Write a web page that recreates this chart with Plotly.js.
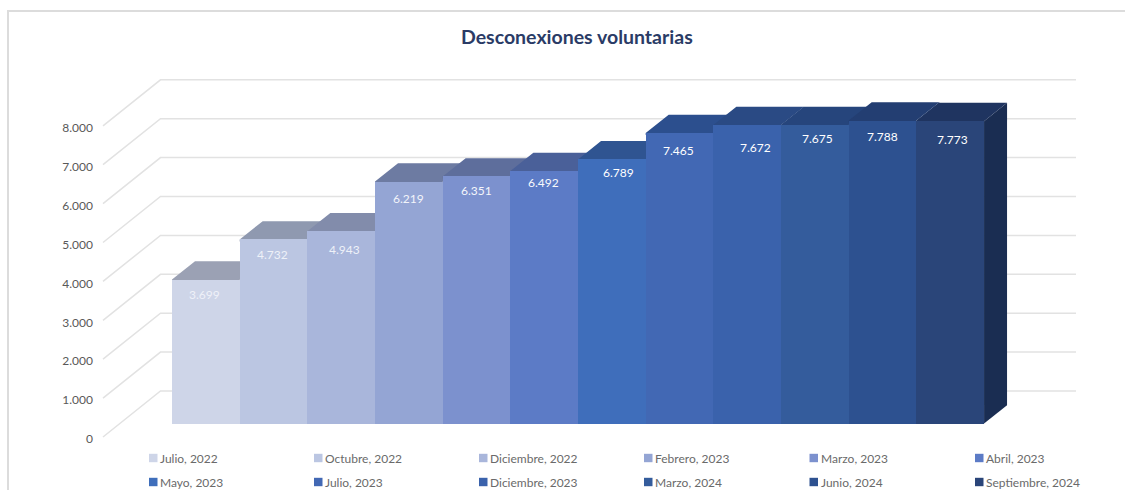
<!DOCTYPE html>
<html><head><meta charset="utf-8">
<script src="https://cdn.plot.ly/plotly-3.0.1.min.js"></script>
<style>html,body{margin:0;padding:0;background:#fff}#c{width:1125px;height:490px}</style>
</head><body><div id="c"></div>
<script>
const categories = ["Julio, 2022","Octubre, 2022","Diciembre, 2022","Febrero, 2023","Marzo, 2023","Abril, 2023","Mayo, 2023","Julio, 2023","Diciembre, 2023","Marzo, 2024","Junio, 2024","Septiembre, 2024"];
const values = [3699,4732,4943,6219,6351,6492,6789,7465,7672,7675,7788,7773];
const tickValues = [0,1000,2000,3000,4000,5000,6000,7000,8000];
const tickLabels = ["0","1.000","2.000","3.000","4.000","5.000","6.000","7.000","8.000"];
const valueLabels = ["3.699","4.732","4.943","6.219","6.351","6.492","6.789","7.465","7.672","7.675","7.788","7.773"];
const frontColors = ["#CED5E8","#BBC6E2","#A9B6DB","#94A5D4","#7C91CE","#5C7BC6","#3F6EBB","#4268B4","#3A62AC","#345C9C","#2D5190","#2A4579"];
const topColors = ["#9BA1B4","#8F99B0","#828CAB","#6D7BA2","#5E6E9C","#4A6099","#2F5491","#2C4F8E","#2A4A84","#26457C","#233E72","#1F3460"];
const sideColors = ["#8A90A2","#80899E","#747D99","#616E90","#54628B","#425588","#2A4A80","#27467D","#254175","#223D6E","#1F3765","#1A2D52"];
const labelColors = ["#EEF1F8","#EEF1F8","#EEF1F8","#F2F4FA","#F4F6FB","#F8F9FC","#FFFFFF","#FFFFFF","#FFFFFF","#FFFFFF","#FFFFFF","#FFFFFF"];
const labelShiftX = [-1,-1,3,0,0,-1,7,-1,8,3,0,2];
const labelShiftY = [15,15,18,17,14,12,13,17,22,14,16,18];

// page geometry
const W=1125,H=490, L=94,R=1090,T=50,B=445;
const barW=67.67, firstCenter=205.83, pxPerUnit=0.0389;
const floorPx=423.5, tickZeroPx=439;
const depthX=23/barW, depthY=18.3/pxPerUnit;
const xr=[(L-firstCenter)/barW,(R-firstCenter)/barW];
const yBars=[(floorPx-B)/pxPerUnit,(floorPx-T)/pxPerUnit];
const yTicks=[(tickZeroPx-B)/pxPerUnit,(tickZeroPx-T)/pxPerUnit];
const xOf=px=>(px-firstCenter)/barW;
const pX=px=>(px-L)/(R-L), pY=py=>(B-py)/(B-T);

const traces=[];
// gridlines: receding floor line + back wall line per tick
const gx=[],gy=[];
const gridFrontLift=2/pxPerUnit, gridBackRise=48/pxPerUnit;
tickValues.forEach(t=>{gx.push(xOf(103),xOf(160.5),xOf(1076),null);gy.push(t+gridFrontLift,t+gridBackRise,t+gridBackRise,null);});
traces.push({type:"scatter",mode:"lines",x:gx,y:gy,yaxis:"y",line:{color:"#E2E2E2",width:1.5},hoverinfo:"skip",showlegend:false});
// top and side faces, painted left to right
const tuck=2/pxPerUnit;
categories.forEach((c,i)=>{
  const v=values[i];
  traces.push({type:"scatter",mode:"lines",yaxis:"y2",fill:"toself",fillcolor:sideColors[i],line:{width:0,color:sideColors[i]},
    x:[i+.5,i+.5+depthX,i+.5+depthX,i+.5,i+.5],y:[0,depthY,v+depthY,v,0],hoverinfo:"skip",showlegend:false});
  traces.push({type:"scatter",mode:"lines",yaxis:"y2",fill:"toself",fillcolor:topColors[i],line:{width:0,color:topColors[i]},
    x:[i-.5,i-.5,i-.5+depthX,i+.5+depthX,i+.5,i+.5,i-.5],y:[v-tuck,v,v+depthY,v+depthY,v,v-tuck,v-tuck],hoverinfo:"skip",showlegend:false});
});
// front faces
categories.forEach((c,i)=>{
  traces.push({type:"bar",name:c,x:[i],y:[values[i]],width:[1],yaxis:"y3",marker:{color:frontColors[i],line:{width:0}},showlegend:false,hovertemplate:c+": %{y}<extra></extra>"});
});

const annotations=[], shapes=[];
valueLabels.forEach((t,i)=>annotations.push({xref:"x",yref:"y3",x:i,y:values[i],text:t,showarrow:false,xshift:labelShiftX[i],yshift:-labelShiftY[i],
  font:{family:"Lato",size:12,color:labelColors[i]}}));
// legend
const legendCols=[149,314,479,644,809.5,975], legendRows=[458,482];
categories.forEach((c,i)=>{
  const px=legendCols[i%6], py=legendRows[Math.floor(i/6)];
  shapes.push({type:"rect",xref:"paper",yref:"paper",x0:pX(px),x1:pX(px+8.5),y0:pY(py+4.2),y1:pY(py-4.2),fillcolor:frontColors[i],line:{width:0}});
  annotations.push({xref:"paper",yref:"paper",x:pX(px+9),y:pY(py),xanchor:"left",yanchor:"middle",text:c,showarrow:false,font:{family:"Lato",size:12,color:"#6A6A6A"}});
});
// outer frame
shapes.push({type:"line",xref:"paper",yref:"paper",x0:pX(7),x1:pX(1125),y0:pY(11),y1:pY(11),line:{color:"#DCDCDC",width:2}});
shapes.push({type:"line",xref:"paper",yref:"paper",x0:pX(8),x1:pX(8),y0:pY(10),y1:pY(490),line:{color:"#DCDCDC",width:2}});
// title
annotations.push({xref:"paper",yref:"paper",x:pX(577),y:pY(36),xanchor:"center",yanchor:"middle",text:"<b>Desconexiones voluntarias</b>",showarrow:false,font:{family:"Lato",size:19.5,color:"#2A3B66"}});

const layout={
  width:W,height:H,margin:{l:L,r:W-R,t:T,b:H-B,pad:0},paper_bgcolor:"#fff",plot_bgcolor:"rgba(0,0,0,0)",
  showlegend:false,barmode:"overlay",bargap:0,hovermode:"closest",
  title:{text:""},
  xaxis:{range:xr,visible:false,fixedrange:true},
  yaxis:{range:yTicks,tickvals:tickValues,ticktext:tickLabels,showgrid:false,zeroline:false,showline:false,ticks:"",
    tickfont:{family:"Lato",size:12,color:"#595959"},fixedrange:true},
  yaxis2:{range:yBars,overlaying:"y",visible:false,fixedrange:true},
  yaxis3:{range:yBars,overlaying:"y",visible:false,fixedrange:true},
  annotations,shapes
};
Plotly.newPlot("c",traces,layout,{displayModeBar:false,staticPlot:true});
</script></body></html>
